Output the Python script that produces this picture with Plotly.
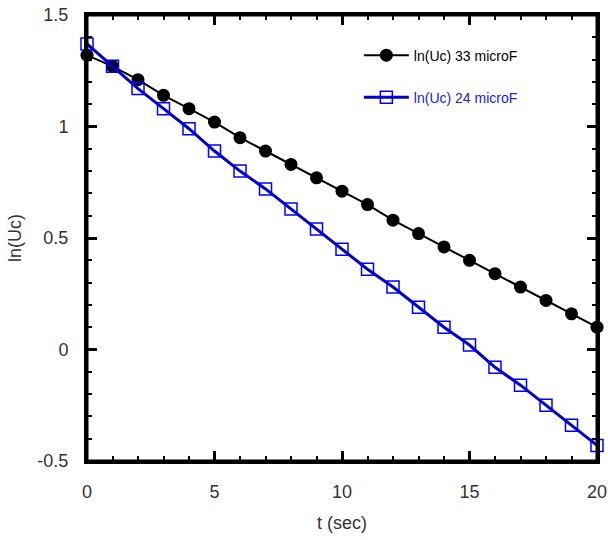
import plotly.graph_objects as go

t = list(range(21))
ln_uc_33 = [1.32, 1.27, 1.21, 1.14, 1.08, 1.02, 0.95, 0.89, 0.83, 0.77, 0.71,
            0.65, 0.58, 0.52, 0.46, 0.40, 0.34, 0.28, 0.22, 0.16, 0.10]
ln_uc_24 = [1.37, 1.27, 1.17, 1.08, 0.99, 0.89, 0.80, 0.72, 0.63, 0.54, 0.45,
            0.36, 0.28, 0.19, 0.10, 0.02, -0.08, -0.16, -0.25, -0.34, -0.43]
x_ticks = [0, 5, 10, 15, 20]
y_ticks = [-0.5, 0, 0.5, 1, 1.5]
y_tick_text = ["-0.5", "0", "0.5", "1", "1.5"]

font_family = "Liberation Sans, Arial"

fig = go.Figure()
fig.add_trace(go.Scatter(
    x=t, y=ln_uc_33, mode="lines+markers", cliponaxis=False,
    line=dict(color="black", width=2),
    marker=dict(symbol="circle", color="black", size=13),
    name="ln(Uc) 33 microF", legendgroup="a",
))
fig.add_trace(go.Scatter(
    x=t, y=ln_uc_24, mode="lines+markers", cliponaxis=False,
    line=dict(color="#0000cc", width=3),
    marker=dict(symbol="square-open", color="#0000ff", size=12, line=dict(width=1.5)),
    name="<span style='color:#2020dd'>ln(Uc) 24 microF</span>", legendgroup="b",
))

axis_common = dict(
    showline=True, linecolor="black", linewidth=3, mirror="allticks",
    ticks="inside", ticklen=10, tickwidth=2.5, tickcolor="black",
    showgrid=False, zeroline=False, automargin=False,
    tickfont=dict(family=font_family, size=18, color="#333"),
    title_font=dict(family=font_family, size=18, color="#333"),
)

fig.update_xaxes(
    range=[0, 20], tickvals=x_ticks, title_text="t (sec)",
    ticklabelstandoff=12, title_standoff=16,
    minor=dict(dtick=1, ticks="inside", ticklen=5, tickwidth=2, tickcolor="black"),
    **axis_common,
)
fig.update_yaxes(
    range=[-0.5, 1.5], tickvals=y_ticks, ticktext=y_tick_text,
    title_text="ln(Uc)", ticklabelstandoff=12, title_standoff=12,
    minor=dict(dtick=0.1, ticks="inside", ticklen=5, tickwidth=2, tickcolor="black"),
    **axis_common,
)

# frame around the plot area
fig.add_shape(type="rect", xref="paper", yref="paper", x0=0, y0=0, x1=1, y1=1,
              line=dict(color="black", width=3), layer="above")

fig.update_layout(
    width=608, height=540,
    margin=dict(l=87, r=11, t=15, b=79),
    plot_bgcolor="white", paper_bgcolor="white",
    showlegend=True,
    legend=dict(
        x=0.533, y=0.945, xanchor="left", yanchor="top",
        bgcolor="rgba(0,0,0,0)",
        font=dict(family=font_family, size=14, color="black"),
        traceorder="grouped", tracegroupgap=21, itemwidth=45,
    ),
)

# drop the browser's default body margin so the figure fills the window
fig.write_html("out.html", config={"displayModeBar": False},
               post_script="document.body.style.margin='0';")
